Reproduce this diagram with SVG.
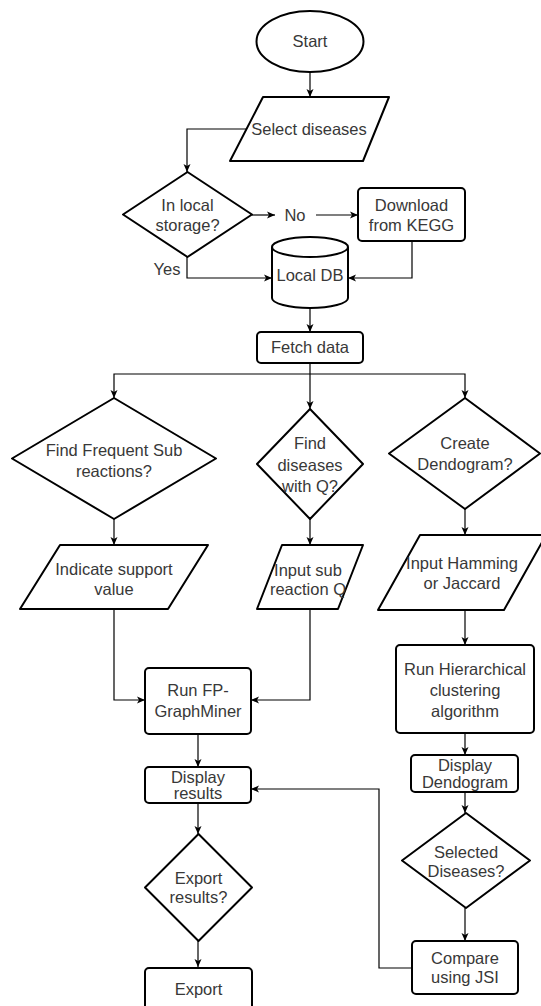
<svg xmlns="http://www.w3.org/2000/svg" width="541" height="1006" viewBox="0 0 541 1006">
<style>
.s{fill:#fff;stroke:#000;stroke-width:2;stroke-linejoin:round}
.c{fill:none;stroke:#000;stroke-width:1.2}
text{font-family:"Liberation Sans",Arial,sans-serif;font-size:16.5px;fill:#383838;text-anchor:middle}
</style>
<defs>
<marker id="a" markerUnits="userSpaceOnUse" markerWidth="10" markerHeight="10" viewBox="0 0 10 10" refX="9" refY="5" orient="auto">
<path d="M1,1.5 L9,5 L1,8.5 L3,5 Z" fill="#000"/>
</marker>
</defs>
<rect width="541" height="1006" fill="#fff"/>
<g id="connectors">
<path class="c" d="M310,72 V97" marker-end="url(#a)"/>
<path class="c" d="M247,129 H187 V172" marker-end="url(#a)"/>
<path class="c" d="M252,215 H275" marker-end="url(#a)"/>
<path class="c" d="M316,215 H358" marker-end="url(#a)"/>
<path class="c" d="M412,241 V278 H348" marker-end="url(#a)"/>
<path class="c" d="M187,257 V278 H272" marker-end="url(#a)"/>
<path class="c" d="M310,308 V332" marker-end="url(#a)"/>
<path class="c" d="M310,363 V409" marker-end="url(#a)"/>
<path class="c" d="M310,374 H114 V398" marker-end="url(#a)"/>
<path class="c" d="M310,374 H465 V398" marker-end="url(#a)"/>
<path class="c" d="M114,519 V545" marker-end="url(#a)"/>
<path class="c" d="M310,519 V545" marker-end="url(#a)"/>
<path class="c" d="M465,509 V535" marker-end="url(#a)"/>
<path class="c" d="M114,609 V700 H145" marker-end="url(#a)"/>
<path class="c" d="M310,609 V700 H251" marker-end="url(#a)"/>
<path class="c" d="M465,610 V645" marker-end="url(#a)"/>
<path class="c" d="M465,733 V755" marker-end="url(#a)"/>
<path class="c" d="M465,792 V813" marker-end="url(#a)"/>
<path class="c" d="M465,908 V941" marker-end="url(#a)"/>
<path class="c" d="M412,968 H379 V789 H251" marker-end="url(#a)"/>
<path class="c" d="M198,734 V767" marker-end="url(#a)"/>
<path class="c" d="M198,803 V834" marker-end="url(#a)"/>
<path class="c" d="M198,941 V967" marker-end="url(#a)"/>
</g>
<g id="start"><ellipse class="s" cx="310" cy="41.5" rx="53.5" ry="30.5"/><text x="310" y="47">Start</text></g>
<g id="select"><path class="s" d="M263,97 H389 L363,161 H230 Z"/><text x="309" y="135">Select diseases</text></g>
<g id="inlocal"><path class="s" d="M187.5,172 L252,214.5 L187.5,257 L123,214.5 Z"/><text x="187.5" y="211">In local</text><text x="187.5" y="231">storage?</text></g>
<g id="no"><text x="295" y="221">No</text></g>
<g id="download"><rect class="s" x="358" y="188" width="107" height="53" rx="4"/><text x="411.5" y="211">Download</text><text x="411.5" y="231">from KEGG</text></g>
<g id="yes"><text x="167" y="275">Yes</text></g>
<g id="localdb"><path class="s" d="M272,247 A38,10 0 0,1 348,247 V298 A38,10 0 0,1 272,298 Z"/><path class="s" fill="none" d="M272,247 A38,10 0 0,0 348,247"/><text x="310" y="281">Local DB</text></g>
<g id="fetch"><rect class="s" x="257" y="332" width="106" height="31" rx="4"/><text x="310" y="353">Fetch data</text></g>
<g id="findfreq"><path class="s" d="M114,398 L216,458.5 L114,519 L12,458.5 Z"/><text x="114" y="456">Find Frequent Sub</text><text x="114" y="477">reactions?</text></g>
<g id="findq"><path class="s" d="M310,409 L363,464 L310,519 L257,464 Z"/><text x="310" y="449">Find</text><text x="310" y="471">diseases</text><text x="310" y="492">with Q?</text></g>
<g id="dendoq"><path class="s" d="M465,398 L540,453.5 L465,509 L389,453.5 Z"/><text x="465" y="449">Create</text><text x="465" y="470">Dendogram?</text></g>
<g id="support"><path class="s" d="M60,545 H208 L168,609 H20 Z"/><text x="114" y="575">Indicate support</text><text x="114" y="595">value</text></g>
<g id="inputq"><path class="s" d="M282,545 H363 L338,609 H257 Z"/><text x="308" y="576">Input sub</text><text x="308" y="595">reaction Q</text></g>
<g id="hamming"><path class="s" d="M420,535 H546 L504,610 H378 Z"/><text x="462" y="569">Input Hamming</text><text x="462" y="589">or Jaccard</text></g>
<g id="runfp"><rect class="s" x="145" y="668" width="106" height="66" rx="4"/><text x="198" y="696">Run FP-</text><text x="198" y="717">GraphMiner</text></g>
<g id="hier"><rect class="s" x="396" y="645" width="138" height="88" rx="4"/><text x="465" y="675">Run Hierarchical</text><text x="465" y="696">clustering</text><text x="465" y="717">algorithm</text></g>
<g id="dispres"><rect class="s" x="145" y="767" width="106" height="36" rx="4"/><text x="198" y="783">Display</text><text x="198" y="799">results</text></g>
<g id="dispdendo"><rect class="s" x="411" y="755" width="107" height="37" rx="4"/><text x="465" y="771">Display</text><text x="465" y="788">Dendogram</text></g>
<g id="selected"><path class="s" d="M466,813 L530,860.5 L466,908 L402,860.5 Z"/><text x="466" y="858">Selected</text><text x="466" y="877">Diseases?</text></g>
<g id="exportq"><path class="s" d="M198.5,834 L252,887.5 L198.5,941 L145,887.5 Z"/><text x="198.5" y="884">Export</text><text x="198.5" y="903">results?</text></g>
<g id="compare"><rect class="s" x="412" y="941" width="106" height="53" rx="4"/><text x="465" y="964">Compare</text><text x="465" y="983">using JSI</text></g>
<g id="export"><rect class="s" x="145" y="968" width="107" height="50" rx="4"/><text x="198.5" y="995">Export</text></g>
</svg>
